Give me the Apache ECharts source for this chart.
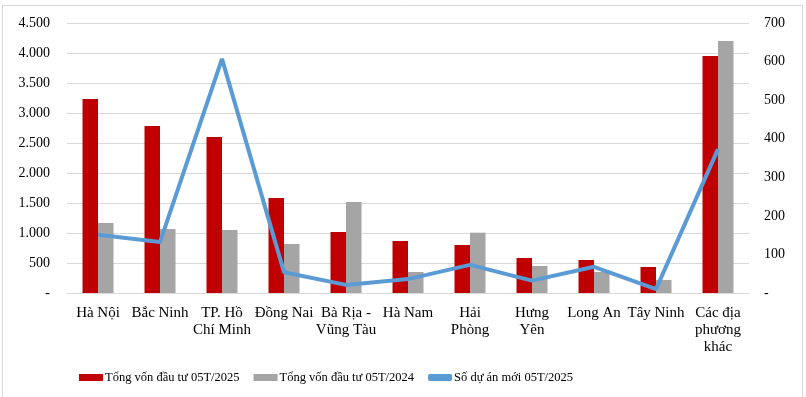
<!DOCTYPE html>
<html>
<head>
<meta charset="utf-8">
<script src="https://cdn.jsdelivr.net/npm/echarts@6/dist/echarts.min.js"></script>
<style>
  html, body { margin: 0; padding: 0; background: #fff; }
  #chart { width: 806px; height: 397px; }
</style>
</head>
<body>
<div id="chart"></div>
<script>
// danh sách địa phương
var categories = ['Hà Nội', 'Bắc Ninh', 'TP. Hồ\nChí Minh', 'Đồng Nai', 'Bà Rịa -\nVũng Tàu', 'Hà Nam',
                  'Hải\nPhòng', 'Hưng\nYên', 'Long An', 'Tây Ninh', 'Các địa\nphương\nkhác'];
var von2025 = [3233, 2783, 2600, 1583, 1017, 867, 800, 583, 550, 433, 3950];
var von2024 = [1167, 1067, 1050, 817, 1517, 350, 1005, 450, 350, 217, 4200];
var soDuAn = [151, 132, 607, 54, 21, 36, 73, 32, 68, 10, 373];

var fontFam = '"Liberation Serif", "Times New Roman", serif';

function fmtNum(v) {
    if (v === 0) return '-';
    return String(v).replace(/\B(?=(\d{3})+(?!\d))/g, '.');
}

var myChart = echarts.init(document.getElementById('chart'));
var option = {
    animation: false,
    textStyle: { fontFamily: fontFam, color: '#000' },
    graphic: [{
        type: 'rect',
        shape: { x: 2.5, y: 5.5, width: 800, height: 400 },
        style: { fill: 'none', stroke: '#d9d9d9', lineWidth: 1 },
        silent: true
    }],
    grid: { left: 67, right: 57, top: 23, bottom: 104 },
    legend: {
        top: 371,
        left: 79,
        padding: 0,
        itemGap: 14,
        itemWidth: 24,
        itemHeight: 7,
        textStyle: { fontFamily: fontFam, fontSize: 12.5, color: '#000', padding: [0, 0, 0, -3] },
        data: [
            { name: 'Tổng vốn đầu tư 05T/2025', icon: 'rect' },
            { name: 'Tổng vốn đầu tư 05T/2024', icon: 'rect' },
            { name: 'Số dự án mới 05T/2025', icon: 'roundRect', itemStyle: { borderWidth: 0 } }
        ]
    },
    xAxis: {
        type: 'category',
        data: categories,
        axisTick: { show: false },
        axisLine: { lineStyle: { color: '#d9d9d9' } },
        axisLabel: {
            interval: 0,
            margin: 12,
            fontFamily: fontFam,
            fontSize: 15,
            color: '#000',
            lineHeight: 17
        }
    },
    yAxis: [{
        type: 'value',
        min: 0,
        max: 4500,
        interval: 500,
        axisLine: { show: false },
        axisTick: { show: false },
        splitLine: { lineStyle: { color: '#d9d9d9', width: 1 } },
        axisLabel: { formatter: fmtNum, fontFamily: fontFam, fontSize: 14, color: '#000', margin: 17 }
    }, {
        type: 'value',
        min: 0,
        max: 700,
        interval: 100,
        axisLine: { show: false },
        axisTick: { show: false },
        splitLine: { show: false },
        axisLabel: { formatter: fmtNum, fontFamily: fontFam, fontSize: 14, color: '#000', margin: 15 }
    }],
    series: [{
        name: 'Tổng vốn đầu tư 05T/2025',
        type: 'bar',
        data: von2025,
        barGap: '0%',
        barCategoryGap: '50%',
        itemStyle: { color: '#c00000' }
    }, {
        name: 'Tổng vốn đầu tư 05T/2024',
        type: 'bar',
        data: von2024,
        itemStyle: { color: '#a5a5a5' }
    }, {
        name: 'Số dự án mới 05T/2025',
        type: 'line',
        yAxisIndex: 1,
        data: soDuAn,
        symbol: 'none',
        lineStyle: { color: '#5b9bd5', width: 4 },
        itemStyle: { color: '#5b9bd5' }
    }]
};
myChart.setOption(option);
</script>
</body>
</html>
